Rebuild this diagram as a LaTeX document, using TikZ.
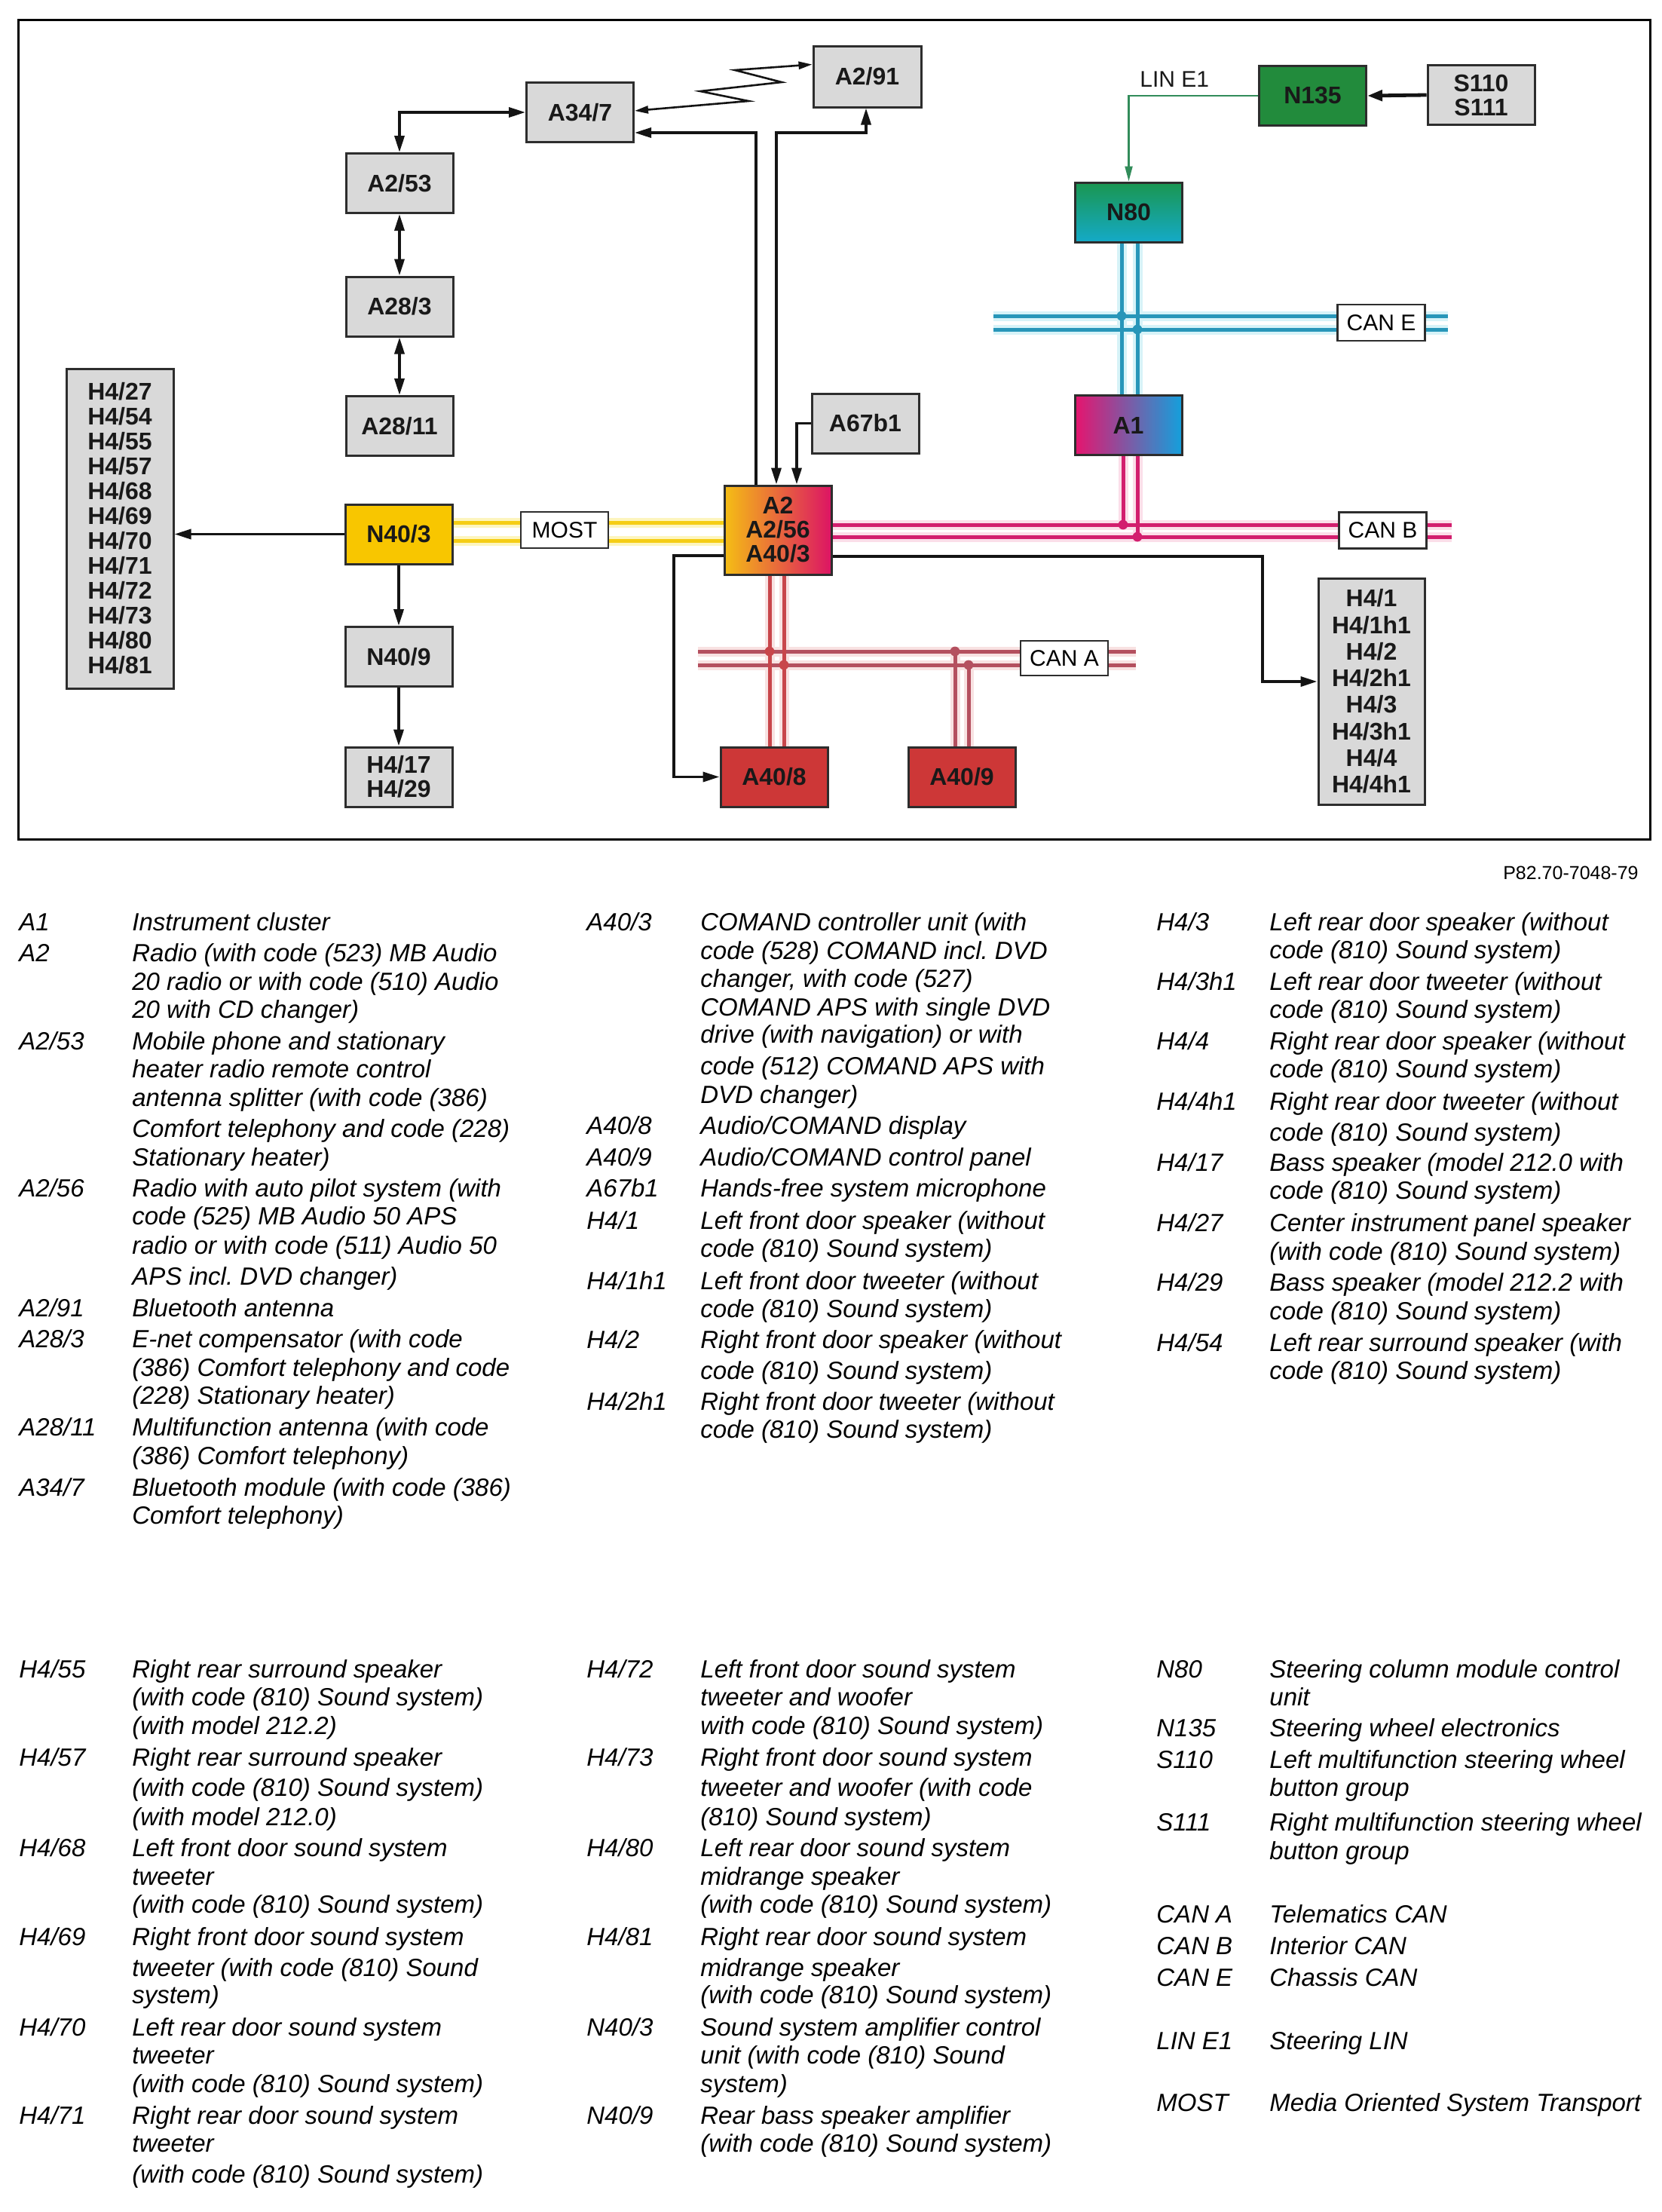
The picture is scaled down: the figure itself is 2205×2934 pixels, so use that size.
\documentclass[tikz,border=0pt]{standalone}
\usepackage{fontspec}
\setmainfont{Liberation Sans}
\usetikzlibrary{arrows.meta}
\frenchspacing
\definecolor{boxgray}{RGB}{217,217,217}
\definecolor{bord}{RGB}{45,45,45}
\definecolor{txt}{RGB}{25,25,25}
\definecolor{yel}{RGB}{248,198,0}
\definecolor{grn}{RGB}{34,139,60}
\definecolor{ngrn}{RGB}{26,150,80}
\definecolor{ncya}{RGB}{20,170,200}
\definecolor{amag}{RGB}{230,20,110}
\definecolor{acya}{RGB}{20,160,220}
\definecolor{a2y}{RGB}{245,190,20}
\definecolor{a2o}{RGB}{225,80,70}
\definecolor{a2m}{RGB}{220,20,100}
\definecolor{rbox}{RGB}{205,55,55}
\definecolor{mostc}{RGB}{245,205,20}
\definecolor{mosth}{RGB}{253,245,190}
\definecolor{canbc}{RGB}{210,30,110}
\definecolor{canbh}{RGB}{251,222,233}
\definecolor{canac}{RGB}{180,80,95}
\definecolor{canah}{RGB}{248,226,226}
\definecolor{canec}{RGB}{40,150,185}
\definecolor{caneh}{RGB}{215,243,248}
\definecolor{redv}{RGB}{200,70,75}
\definecolor{linc}{RGB}{50,140,90}
\newcommand\bxfont{\fontsize{16pt}{16.5pt}\selectfont\bfseries}
\newcommand\lgfont{\fontsize{16.5pt}{19pt}\selectfont\itshape}
\newcounter{ln}
\newcommand\tx[3]{\stepcounter{ln}\node[leg] (t\arabic{ln}) at (#1,#2) {#3};}
\begin{document}
\begin{tikzpicture}[x=0.5pt,y=-0.5pt,
  gbox/.style={draw=bord, line width=1.5pt, fill=boxgray, inner sep=0pt, font=\bxfont, align=center, text=txt, minimum width=71pt, minimum height=39.5pt},
  leg/.style={anchor=base west, inner sep=0pt, font=\lgfont},
  lbl/.style={draw=bord, line width=1.2pt, fill=white, inner sep=0pt, minimum width=58pt, minimum height=24pt, font=\fontsize{15pt}{15pt}\selectfont},
  conn/.style={draw=black!92, line width=1.8pt},
  arr/.style={-{Triangle[length=11pt,width=6.5pt]}},
  barr/.style={{Triangle[length=11pt,width=6.5pt]}-{Triangle[length=11pt,width=6.5pt]}},
  halo/.style={line width=6.5pt},
  busl/.style={line width=2.5pt},
]
\useasboundingbox (0,0) rectangle (2205,2934);
\fill[white] (0,0) rectangle (2205,2934);
\draw[line width=1.5pt] (24,26) rectangle (2189,1113);

% ---------- boxes ----------
\node[gbox] (a347) at (769.5,149) {A34/7};
\node[gbox] (a253) at (530,243) {A2/53};
\node[gbox] (a283) at (530,406.5) {A28/3};
\node[gbox] (a2811) at (530,565) {A28/11};
\node[gbox,minimum width=71.5pt,minimum height=40.5pt] (a291) at (1150.5,101.5) {A2/91};
\node[gbox] (a67b1) at (1148,561.5) {A67b1};
\node[gbox,fill=yel] (n403) at (529,708.5) {N40/3};
\node[gbox] (n409) at (529,871) {N40/9};
\node[gbox,font={\fontsize{16pt}{16pt}\selectfont\bfseries}] (h417) at (529,1030.5) {H4/17\\H4/29};
\node[gbox,fill=none,left color=a2y,middle color=a2o,right color=a2m,minimum height=59pt,font={\fontsize{16pt}{16pt}\selectfont\bfseries}] (a2) at (1032,703) {A2\\A2/56\\A40/3};
\node[gbox,fill=rbox] (a408) at (1027,1030.5) {A40/8};
\node[gbox,fill=rbox] (a409) at (1276,1030.5) {A40/9};
\node[gbox,fill=none,left color=amag,right color=acya] (a1) at (1497,564) {A1};
\node[gbox,fill=none,top color=ngrn,bottom color=ncya] (n80) at (1497.5,281.5) {N80};
\node[gbox,fill=grn] (n135) at (1741.5,127) {N135};
\node[gbox,font={\fontsize{16pt}{16pt}\selectfont\bfseries}] (s110) at (1965,126) {S110\\S111};
\node[gbox,minimum height=212pt,font={\fontsize{16pt}{16.5pt}\selectfont\bfseries}] (h4l) at (159,701)
  {H4/27\\H4/54\\H4/55\\H4/57\\H4/68\\H4/69\\H4/70\\H4/71\\H4/72\\H4/73\\H4/80\\H4/81};
\node[gbox,minimum width=70.5pt,minimum height=150pt,font={\fontsize{16pt}{17.65pt}\selectfont\bfseries}] (h4r) at (1819.5,917)
  {H4/1\\H4/1h1\\H4/2\\H4/2h1\\H4/3\\H4/3h1\\H4/4\\H4/4h1};

% ---------- black connectors ----------
\draw[conn,barr] (a347.west) -| (a253.north);
\draw[conn,barr] (a253) -- (a283);
\draw[conn,barr] (a283) -- (a2811);
\coordinate (c1) at (1003,176);
\draw[conn,arr] (c1 |- a2.north) -- (c1) -- (c1 -| a347.east);
\coordinate (c2) at (1030,176);
\coordinate (c3) at (1149,176);
\draw[conn,barr] (c2 |- a2.north) -- (c2) -- (c3) -- (c3 |- a291.south);
\coordinate (c4) at (1057,562);
\draw[conn,arr] (a67b1.west) -- (c4 |- a67b1.west) -- (c4 |- a2.north);
\draw[conn,arr] (n403.west) -- (h4l.east |- n403.west);
\draw[conn,arr] (n403) -- (n409);
\draw[conn,arr] (n409) -- (h417);
\coordinate (c5) at (894,737);
\draw[conn,arr] (c5 -| a2.west) -- (c5) |- (a408.west);
\coordinate (c6) at (1675,738);
\coordinate (c7) at (1675,904);
\draw[conn,arr] (c6 -| a2.east) -- (c6) -- (c7) -- (c7 -| h4r.west);
\draw[draw=black!92,line width=2.4pt,-{Triangle[length=10pt,width=7pt]}] (s110.west) -- (n135.east);
\draw[draw=linc,line width=1.1pt,-{Triangle[length=10pt,width=5pt]}] (n135.west) -| (n80.north);
\node[anchor=base west,inner sep=0pt,font=\fontsize{15pt}{15pt}\selectfont,text=txt] (linlbl) at (1512,115) {LIN E1};
% zigzag (Bluetooth)
\coordinate (z1) at (993,134);
\coordinate (z2) at (929,121);
\coordinate (z3) at (1037,109);
\coordinate (z4) at (975,93);
\draw[draw=black!92,line width=1.3pt,{Triangle[length=9pt,width=5pt]}-{Triangle[length=9pt,width=5pt]}]
  ([yshift=1pt]a347.east) -- (z1) -- (z2) -- (z3) -- (z4) -- ([yshift=8pt]a291.west);

% ---------- bus coordinates ----------
\coordinate (mo1) at (0,693);
\coordinate (mo2) at (0,717);
\coordinate (cb1) at (1926,696);
\coordinate (cb2) at (1926,712);
\coordinate (ce1l) at (1318,419);
\coordinate (ce1r) at (1921,419);
\coordinate (ce2l) at (1318,437);
\coordinate (ce2r) at (1921,437);
\coordinate (ca1l) at (926,864);
\coordinate (ca1r) at (1507,864);
\coordinate (ca2l) at (926,882);
\coordinate (ca2r) at (1507,882);
\coordinate (v1) at (1488,419);
\coordinate (v2) at (1509,437);
\coordinate (v3) at (1490,696);
\coordinate (v4) at (1509,712);
\coordinate (v5) at (1021,864);
\coordinate (v6) at (1040,882);
\coordinate (v7) at (1267,864);
\coordinate (v8) at (1285,882);

% halos
\draw[halo,mosth] (n403.east |- mo1) -- (a2.west |- mo1);
\draw[halo,mosth] (n403.east |- mo2) -- (a2.west |- mo2);
\draw[halo,canbh] (a2.east |- cb1) -- (cb1);
\draw[halo,canbh] (a2.east |- cb2) -- (cb2);
\draw[halo,canbh] (v3 |- a1.south) -- (v3);
\draw[halo,canbh] (v4 |- a1.south) -- (v4);
\draw[halo,caneh] (ce1l) -- (ce1r);
\draw[halo,caneh] (ce2l) -- (ce2r);
\draw[halo,caneh] (v1 |- n80.south) -- (v1 |- a1.north);
\draw[halo,caneh] (v2 |- n80.south) -- (v2 |- a1.north);
\draw[halo,canah] (ca1l) -- (ca1r);
\draw[halo,canah] (ca2l) -- (ca2r);
\draw[halo,canah] (v5 |- a2.south) -- (v5 |- a408.north);
\draw[halo,canah] (v6 |- a2.south) -- (v6 |- a408.north);
\draw[halo,canah] (v7 |- a409.north) -- (v7);
\draw[halo,canah] (v8 |- a409.north) -- (v8);
% lines
\draw[busl,mostc] (n403.east |- mo1) -- (a2.west |- mo1);
\draw[busl,mostc] (n403.east |- mo2) -- (a2.west |- mo2);
\draw[busl,canbc] (a2.east |- cb1) -- (cb1);
\draw[busl,canbc] (a2.east |- cb2) -- (cb2);
\draw[busl,canbc] (v3 |- a1.south) -- (v3);
\draw[busl,canbc] (v4 |- a1.south) -- (v4);
\draw[busl,canec] (ce1l) -- (ce1r);
\draw[busl,canec] (ce2l) -- (ce2r);
\draw[busl,canec] (v1 |- n80.south) -- (v1 |- a1.north);
\draw[busl,canec] (v2 |- n80.south) -- (v2 |- a1.north);
\draw[busl,canac] (ca1l) -- (ca1r);
\draw[busl,canac] (ca2l) -- (ca2r);
\draw[busl,redv] (v5 |- a2.south) -- (v5 |- a408.north);
\draw[busl,redv] (v6 |- a2.south) -- (v6 |- a408.north);
\draw[busl,canac] (v7 |- a409.north) -- (v7);
\draw[busl,canac] (v8 |- a409.north) -- (v8);
% dots
\fill[canec] (v1) circle[radius=3.2pt] (v2) circle[radius=3.2pt];
\fill[canbc] (v3) circle[radius=3.2pt] (v4) circle[radius=3.2pt];
\fill[redv] (v5) circle[radius=3.2pt] (v6) circle[radius=3.2pt];
\fill[canac] (v7) circle[radius=3.2pt] (v8) circle[radius=3.2pt];
% bus labels
\node[lbl] (most) at (749,703) {MOST};
\node[lbl] (cane) at (1832.5,428) {CAN E};
\node[lbl] (canb) at (1834.5,703.5) {CAN B};
\node[lbl,minimum height=23pt] (cana) at (1412,873) {CAN A};

\node[anchor=base east,inner sep=0pt,font=\fontsize{12.5pt}{12.5pt}\selectfont] (ref) at (2174,1166) {P82.70-7048-79};

% ---------- legend, column 1 ----------
\tx{25}{1234.5}{A1}\tx{175}{1234.5}{Instrument cluster}
\tx{25}{1275.5}{A2}\tx{175}{1275.5}{Radio (with code (523) MB Audio}
\tx{175}{1313}{20 radio or with code (510) Audio}
\tx{175}{1350}{20 with CD changer)}
\tx{25}{1392}{A2/53}\tx{175}{1392}{Mobile phone and stationary}
\tx{175}{1429}{heater radio remote control}
\tx{175}{1467}{antenna splitter (with code (386)}
\tx{175}{1508.5}{Comfort telephony and code (228)}
\tx{175}{1546.7}{Stationary heater)}
\tx{25}{1587.7}{A2/56}\tx{175}{1587.7}{Radio with auto pilot system (with}
\tx{175}{1624.7}{code (525) MB Audio 50 APS}
\tx{175}{1663}{radio or with code (511) Audio 50}
\tx{175}{1704}{APS incl. DVD changer)}
\tx{25}{1746}{A2/91}\tx{175}{1746}{Bluetooth antenna}
\tx{25}{1787}{A28/3}\tx{175}{1787}{E-net compensator (with code}
\tx{175}{1825.4}{(386) Comfort telephony and code}
\tx{175}{1862.4}{(228) Stationary heater)}
\tx{25}{1904.6}{A28/11}\tx{175}{1904.6}{Multifunction antenna (with code}
\tx{175}{1942.8}{(386) Comfort telephony)}
\tx{25}{1984}{A34/7}\tx{175}{1984}{Bluetooth module (with code (386)}
\tx{175}{2021}{Comfort telephony)}
% column 2
\tx{778}{1234.5}{A40/3}\tx{929}{1234.5}{COMAND controller unit (with}
\tx{929}{1272}{code (528) COMAND incl. DVD}
\tx{929}{1309}{changer, with code (527)}
\tx{929}{1347}{COMAND APS with single DVD}
\tx{929}{1383.5}{drive (with navigation) or with}
\tx{929}{1425}{code (512) COMAND APS with}
\tx{929}{1463}{DVD changer)}
\tx{778}{1504.4}{A40/8}\tx{929}{1504.4}{Audio/COMAND display}
\tx{778}{1546.7}{A40/9}\tx{929}{1546.7}{Audio/COMAND control panel}
\tx{778}{1587.7}{A67b1}\tx{929}{1587.7}{Hands-free system microphone}
\tx{778}{1630}{H4/1}\tx{929}{1630}{Left front door speaker (without}
\tx{929}{1667}{code (810) Sound system)}
\tx{778}{1710}{H4/1h1}\tx{929}{1710}{Left front door tweeter (without}
\tx{929}{1747}{code (810) Sound system)}
\tx{778}{1788.5}{H4/2}\tx{929}{1788.5}{Right front door speaker (without}
\tx{929}{1829.5}{code (810) Sound system)}
\tx{778}{1870.6}{H4/2h1}\tx{929}{1870.6}{Right front door tweeter (without}
\tx{929}{1907.6}{code (810) Sound system)}
% column 3
\tx{1534}{1234.5}{H4/3}\tx{1684}{1234.5}{Left rear door speaker (without}
\tx{1684}{1271}{code (810) Sound system)}
\tx{1534}{1313.7}{H4/3h1}\tx{1684}{1313.7}{Left rear door tweeter (without}
\tx{1684}{1350}{code (810) Sound system)}
\tx{1534}{1392}{H4/4}\tx{1684}{1392}{Right rear door speaker (without}
\tx{1684}{1429}{code (810) Sound system)}
\tx{1534}{1472}{H4/4h1}\tx{1684}{1472}{Right rear door tweeter (without}
\tx{1684}{1513}{code (810) Sound system)}
\tx{1534}{1553.7}{H4/17}\tx{1684}{1553.7}{Bass speaker (model 212.0 with}
\tx{1684}{1590.7}{code (810) Sound system)}
\tx{1534}{1633.5}{H4/27}\tx{1684}{1633.5}{Center instrument panel speaker}
\tx{1684}{1671}{(with code (810) Sound system)}
\tx{1534}{1712.7}{H4/29}\tx{1684}{1712.7}{Bass speaker (model 212.2 with}
\tx{1684}{1750}{code (810) Sound system)}
\tx{1534}{1792}{H4/54}\tx{1684}{1792}{Left rear surround speaker (with}
\tx{1684}{1829.5}{code (810) Sound system)}
% lower block, column 1
\tx{25}{2225}{H4/55}\tx{175}{2225}{Right rear surround speaker}
\tx{175}{2262.5}{(with code (810) Sound system)}
\tx{175}{2300}{(with model 212.2)}
\tx{25}{2342.5}{H4/57}\tx{175}{2342.5}{Right rear surround speaker}
\tx{175}{2382.5}{(with code (810) Sound system)}
\tx{175}{2421.5}{(with model 212.0)}
\tx{25}{2462.5}{H4/68}\tx{175}{2462.5}{Left front door sound system}
\tx{175}{2500}{tweeter}
\tx{175}{2537.5}{(with code (810) Sound system)}
\tx{25}{2580}{H4/69}\tx{175}{2580}{Right front door sound system}
\tx{175}{2621.5}{tweeter (with code (810) Sound}
\tx{175}{2657.5}{system)}
\tx{25}{2700}{H4/70}\tx{175}{2700}{Left rear door sound system}
\tx{175}{2737.5}{tweeter}
\tx{175}{2775}{(with code (810) Sound system)}
\tx{25}{2817.5}{H4/71}\tx{175}{2817.5}{Right rear door sound system}
\tx{175}{2854}{tweeter}
\tx{175}{2895}{(with code (810) Sound system)}
% lower block, column 2
\tx{778}{2225}{H4/72}\tx{929}{2225}{Left front door sound system}
\tx{929}{2262.5}{tweeter and woofer}
\tx{929}{2300}{with code (810) Sound system)}
\tx{778}{2342.5}{H4/73}\tx{929}{2342.5}{Right front door sound system}
\tx{929}{2382.5}{tweeter and woofer (with code}
\tx{929}{2421.5}{(810) Sound system)}
\tx{778}{2462.5}{H4/80}\tx{929}{2462.5}{Left rear door sound system}
\tx{929}{2500}{midrange speaker}
\tx{929}{2537.5}{(with code (810) Sound system)}
\tx{778}{2580}{H4/81}\tx{929}{2580}{Right rear door sound system}
\tx{929}{2621.5}{midrange speaker}
\tx{929}{2657.5}{(with code (810) Sound system)}
\tx{778}{2700}{N40/3}\tx{929}{2700}{Sound system amplifier control}
\tx{929}{2737.5}{unit (with code (810) Sound}
\tx{929}{2775}{system)}
\tx{778}{2817.5}{N40/9}\tx{929}{2817.5}{Rear bass speaker amplifier}
\tx{929}{2854}{(with code (810) Sound system)}
% lower block, column 3
\tx{1534}{2225}{N80}\tx{1684}{2225}{Steering column module control}
\tx{1684}{2262.5}{unit}
\tx{1534}{2303.5}{N135}\tx{1684}{2303.5}{Steering wheel electronics}
\tx{1534}{2345}{S110}\tx{1684}{2345}{Left multifunction steering wheel}
\tx{1684}{2382.5}{button group}
\tx{1534}{2428.5}{S111}\tx{1684}{2428.5}{Right multifunction steering wheel}
\tx{1684}{2466.5}{button group}
\tx{1534}{2550}{CAN A}\tx{1684}{2550}{Telematics CAN}
\tx{1534}{2592.5}{CAN B}\tx{1684}{2592.5}{Interior CAN}
\tx{1534}{2634}{CAN E}\tx{1684}{2634}{Chassis CAN}
\tx{1534}{2718.5}{LIN E1}\tx{1684}{2718.5}{Steering LIN}
\tx{1534}{2800}{MOST}\tx{1684}{2800}{Media Oriented System Transport}
\end{tikzpicture}
\end{document}
